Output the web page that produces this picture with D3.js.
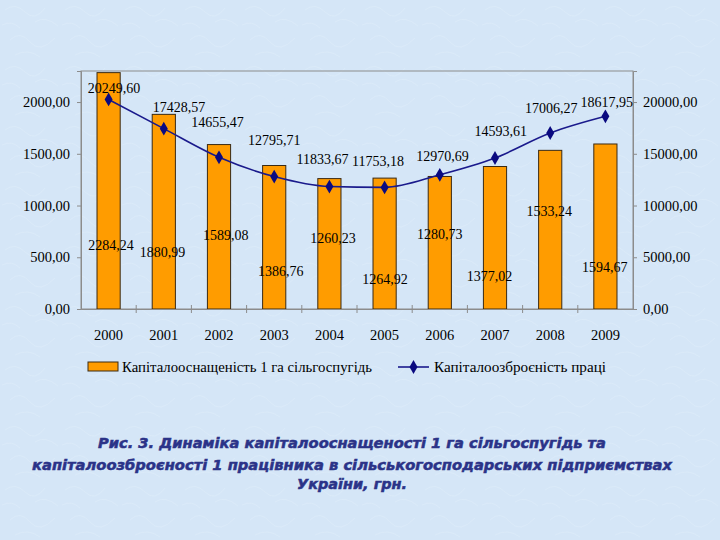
<!DOCTYPE html>
<html><head><meta charset="utf-8">
<script src="https://cdn.jsdelivr.net/npm/d3@7"></script>
<style>
html,body{margin:0;padding:0;background:#d6e7f7;}
svg{display:block;}
</style></head>
<body>
<svg id="c" width="720" height="540"></svg>
<script>
const years = ["2000","2001","2002","2003","2004","2005","2006","2007","2008","2009"];
const barValues = [2284.24,1880.99,1589.08,1386.76,1260.23,1264.92,1280.73,1377.02,1533.24,1594.67];
const lineValues = [20249.60,17428.57,14655.47,12795.71,11833.67,11753.18,12970.69,14593.61,17006.27,18617.95];
const leftTicks = [0,500,1000,1500,2000];
const rightTicks = [0,5000,10000,15000,20000];
const barName = "Капіталооснащеність 1 га сільгоспугідь";
const lineName = "Капіталоозброєність праці";
const captionLines = ["Рис. 3. Динаміка капіталооснащеності 1 га сільгоспугідь та",
  "капіталоозброєності 1 працівника в сільськогосподарських підприємствах",
  "України, грн."];
// label placement (pixel offsets, layout only)
const barLabelDx = [2.4,-1.3,6.8,6.6,3.6,0.4,0,-5.5,-1,-0.7];
const barLabelY = [245,251.7,235,270.7,238,279,234,276,210.7,266.7];
const lineLabelDx = [5.4,15.2,-1.5,0,-7,-6.6,2.7,5.8,1,1.3];
const lineLabelDy = [-11,-22,-35.6,-36.6,-27,-26,-19,-27,-24.7,-14.6];

const fmt = v => d3.format(".2f")(v).replace(".", ",");
const svg = d3.select("#c");

// subtle texture
const defs = svg.append("defs");
const pat = defs.append("pattern").attr("id","tex").attr("width",60).attr("height",60).attr("patternUnits","userSpaceOnUse");
pat.append("rect").attr("width",60).attr("height",60).attr("fill","#d5e6f7");
pat.append("path").attr("d","M5,10 Q15,2 25,12 T45,8 M10,40 Q20,30 30,42 T55,38 M2,25 Q12,20 20,28 M35,22 Q45,15 58,26 M15,55 Q28,48 40,57")
  .attr("fill","none").attr("stroke","#dcebf9").attr("stroke-width",0.8);
svg.append("rect").attr("width",720).attr("height",540).attr("fill","url(#tex)");

const L = 81, R = 633, T = 71, B = 309;
const x = d3.scaleBand().domain(years).range([L,R]).paddingInner(0).paddingOuter(0);
const yL = d3.scaleLinear().domain([0,2300]).range([B,T]);
const yR = d3.scaleLinear().domain([0,23000]).range([B,T]);
const serif = "'Liberation Serif','Times New Roman',serif";

// plot frame
svg.append("rect").attr("x",L).attr("y",T).attr("width",R-L).attr("height",B-T)
  .attr("fill","none").attr("stroke","#8c8c8c").attr("stroke-width",1);

// bars
const bw = x.bandwidth()*0.42;
svg.append("g").selectAll("rect").data(barValues).join("rect")
  .attr("x",(d,i)=>x(years[i])+x.bandwidth()/2-bw/2)
  .attr("y",d=>yL(d)).attr("width",bw).attr("height",d=>B-yL(d))
  .attr("fill","#ff9c00").attr("stroke","#3a2a14").attr("stroke-width",1);

// axes
const gl = svg.append("g").attr("transform",`translate(${L},0)`)
  .call(d3.axisLeft(yL).tickValues(leftTicks).tickFormat(fmt).tickSize(4).tickPadding(7));
const gr = svg.append("g").attr("transform",`translate(${R},0)`)
  .call(d3.axisRight(yR).tickValues(rightTicks).tickFormat(fmt).tickSize(4).tickPadding(6));
const gx = svg.append("g").attr("transform",`translate(0,${B})`)
  .call(d3.axisBottom(x).tickSize(0).tickPadding(27));
[gl,gr,gx].forEach(g=>{
  g.attr("font-family",serif).attr("font-size",14.5);
  g.selectAll("path.domain").attr("stroke","#8c8c8c");
  g.selectAll("line").attr("stroke","#8c8c8c");
  g.selectAll("text").attr("fill","#000").attr("font-family",serif).attr("font-size",14.5);
});
gx.selectAll("text").attr("dy","0.3em");
// category boundary ticks (crossing)
const bounds = years.slice(1).map(y=>x(y));
gx.selectAll("line.bt").data(bounds).join("line").attr("class","bt")
  .attr("x1",d=>d).attr("x2",d=>d).attr("y1",-4).attr("y2",4).attr("stroke","#8c8c8c");

// line
const line = d3.line().x((d,i)=>x(years[i])+x.bandwidth()/2).y(d=>yR(d)).curve(d3.curveMonotoneX);
svg.append("path").datum(lineValues).attr("d",line).attr("fill","none").attr("stroke","#1a1a8c").attr("stroke-width",1.6);
const dia = d3.symbol().type(d3.symbolDiamond).size(55);
svg.append("g").selectAll("path").data(lineValues).join("path")
  .attr("transform",(d,i)=>`translate(${x(years[i])+x.bandwidth()/2},${yR(d)})`)
  .attr("d",dia).attr("fill","#0a0a80");

// labels
svg.append("g").selectAll("text").data(barValues).join("text")
  .attr("x",(d,i)=>x(years[i])+x.bandwidth()/2+barLabelDx[i])
  .attr("y",(d,i)=>barLabelY[i]).attr("dy","0.35em")
  .attr("text-anchor","middle").attr("font-family",serif).attr("font-size",14).text(fmt);
svg.append("g").selectAll("text").data(lineValues).join("text")
  .attr("x",(d,i)=>x(years[i])+x.bandwidth()/2+lineLabelDx[i])
  .attr("y",(d,i)=>yR(d)+lineLabelDy[i]).attr("dy","0.35em")
  .attr("text-anchor","middle").attr("font-family",serif).attr("font-size",14).text(fmt);

// legend
const lg = svg.append("g");
lg.append("rect").attr("x",88).attr("y",362).attr("width",30).attr("height",9)
  .attr("fill","#ff9c00").attr("stroke","#3a2a14").attr("stroke-width",1);
lg.append("text").attr("x",122).attr("y",367).attr("dy","0.35em").attr("font-family",serif).attr("font-size",15)
  .attr("textLength",250).attr("lengthAdjust","spacingAndGlyphs").text(barName);
lg.append("line").attr("x1",398).attr("x2",429).attr("y1",367).attr("y2",367).attr("stroke","#1a1a8c").attr("stroke-width",1.6);
lg.append("path").attr("transform","translate(413.5,367)").attr("d",dia).attr("fill","#0a0a80");
lg.append("text").attr("x",434).attr("y",367).attr("dy","0.35em").attr("font-family",serif).attr("font-size",15)
  .attr("textLength",172).attr("lengthAdjust","spacingAndGlyphs").text(lineName);

// caption
const capY = [443,465,484];
const capW = [508,640,110];
svg.append("g").selectAll("text").data(captionLines).join("text")
  .attr("x",352).attr("y",(d,i)=>capY[i]).attr("dy","0.35em").attr("text-anchor","middle")
  .attr("font-family","'DejaVu Sans','Liberation Sans',sans-serif").attr("font-weight","bold").attr("font-style","italic")
  .attr("font-size",13.5).attr("fill","#2b3388").attr("stroke","#2b3388").attr("stroke-width",0.5)
  .attr("textLength",(d,i)=>capW[i]).attr("lengthAdjust","spacingAndGlyphs")
  .text(d=>d);
</script>
</body></html>
